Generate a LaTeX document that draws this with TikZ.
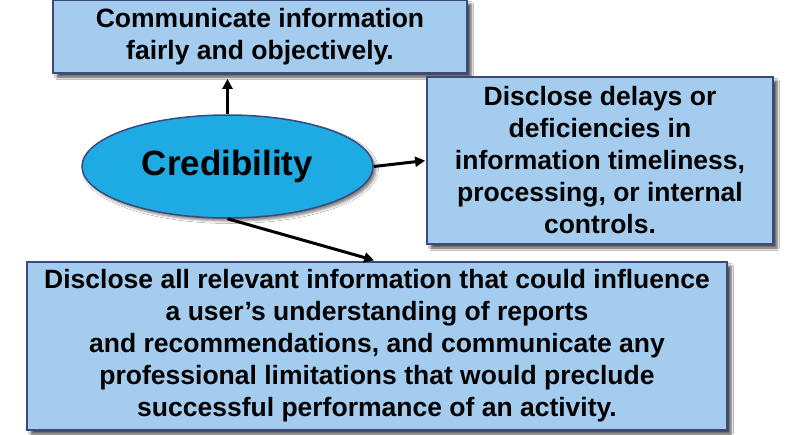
\documentclass[tikz,border=0pt]{standalone}
\usepackage{fontspec}
\setmainfont{Liberation Sans}
\usetikzlibrary{shapes.geometric,shadows.blur,arrows.meta}
\definecolor{boxfill}{HTML}{A4CCEE}
\definecolor{boxline}{HTML}{3A4A7C}
\definecolor{ellfill}{HTML}{1EAAE2}
\tikzset{
  infobox/.style={draw=boxline, line width=1.8pt, fill=boxfill, align=center,
    inner sep=0pt, font=\bfseries\fontsize{26.5}{32}\selectfont,
    blur shadow={shadow xshift=4pt, shadow yshift=-4pt, shadow blur radius=2.5pt, shadow opacity=70}},
  credell/.style={ellipse, draw=boxline, line width=1.5pt, fill=ellfill, inner sep=0pt,
    font=\bfseries\fontsize{35}{40}\selectfont,
    blur shadow={shadow xshift=3pt, shadow yshift=-3pt, shadow blur radius=2.5pt, shadow opacity=50}},
  conn/.style={line width=3pt, -{Triangle[length=10pt,width=10pt]}}
}
\begin{document}
\begin{tikzpicture}[x=1pt,y=-1pt]
\useasboundingbox[fill=white] (0,0) rectangle (789,434);
\node[infobox, minimum width=414pt, minimum height=73pt] (top) at (260,36.5)
  {Communicate information\\fairly and objectively.};
\node[infobox, minimum width=346pt, minimum height=167pt] (rbox) at (600,160.5)
  {Disclose delays or\\deficiencies in\\information timeliness,\\processing, or internal\\controls.};
\node[infobox, minimum width=700pt, minimum height=168pt] (bbox) at (377,346)
  {Disclose all relevant information that could influence\\a user’s understanding of reports\\and recommendations, and communicate any\\professional limitations that would preclude\\successful performance of an activity.};
\node[credell, minimum width=291pt, minimum height=103pt] (cred) at (227.5,166.5) {Credibility};
\draw[conn, shorten >=5pt] (cred.north) -- (cred.north |- top.south);
\draw[conn, shorten >=1pt] (cred.east) -- (rbox.west);
\draw[conn, shorten >=3pt] (cred.south) -- (bbox.north);
\end{tikzpicture}
\end{document}
